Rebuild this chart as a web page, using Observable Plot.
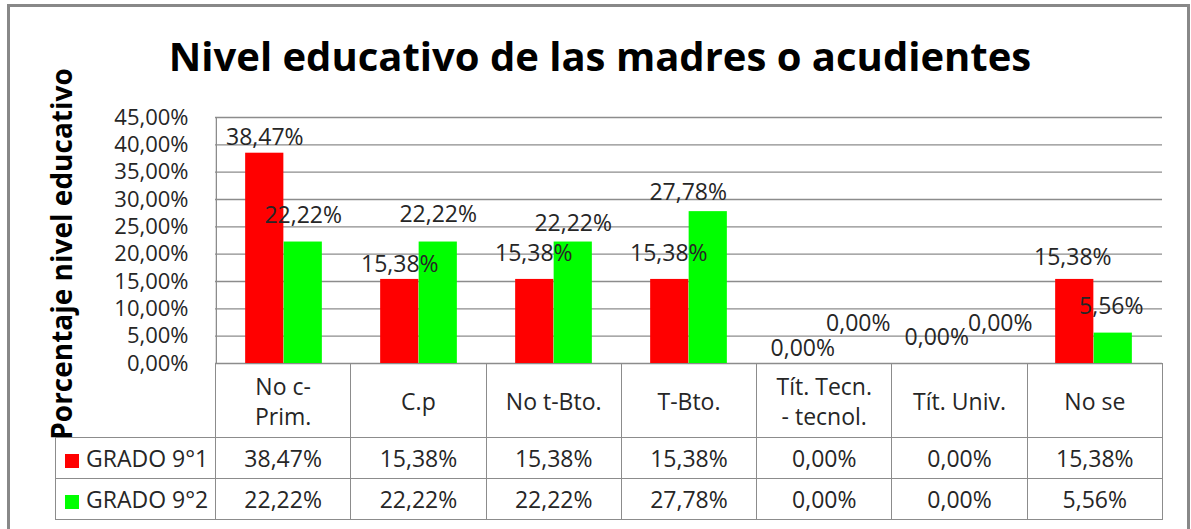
<!DOCTYPE html>
<html>
<head>
<meta charset="utf-8">
<script src="https://cdn.jsdelivr.net/npm/d3@7"></script>
<script src="https://cdn.jsdelivr.net/npm/@observablehq/plot@0.6"></script>
<style>
  body { margin: 0; background: #fff; }
  #wrap { position: relative; width: 1191px; height: 529px; overflow: hidden; font-family: "Open Sans", sans-serif; color: #262626; background: #fff; }
  #border { position: absolute; left: 7px; top: 4px; width: 1183px; height: 580px; border: 3px solid #888; box-sizing: border-box; }
  #title { position: absolute; left: 0; width: 1200px; top: 36px; text-align: center; font-weight: 700; font-size: 40px; line-height: 40px; color: #000; white-space: nowrap; }
  #ytitle { position: absolute; left: 61px; top: 254px; transform: translate(-50%, -50%) rotate(-90deg); font-weight: 700; font-size: 28px; line-height: 28px; color: #000; white-space: nowrap; }
  #chart { position: absolute; left: 0; top: 0; }
  #tbl { position: absolute; border-collapse: collapse; table-layout: fixed; font-size: 23px; }
  #tbl td { border: 1px solid #8c8c8c; text-align: center; padding: 0; vertical-align: middle; line-height: 30px; white-space: nowrap; }
  #tbl td.corner { border-top: none; border-left: none; }
  #tbl td.lg { text-align: left; padding-left: 9px; }
  #tbl .sw { display: inline-block; width: 14px; height: 14px; margin-right: 7px; vertical-align: -1px; }
</style>
</head>
<body>
<div id="wrap">
  <div id="border"></div>
  <div id="chart"></div>
  <div id="title">Nivel educativo de las madres o acudientes</div>
  <div id="ytitle">Porcentaje nivel educativo</div>
</div>
<script>
// ---- data ----
const categories = ["No c-\nPrim.", "C.p", "No t-Bto.", "T-Bto.", "Tít. Tecn.\n- tecnol.", "Tít. Univ.", "No se"];
const seriesNames = ["GRADO 9°1", "GRADO 9°2"];
const grado91 = [38.47, 15.38, 15.38, 15.38, 0, 0, 15.38];
const grado92 = [22.22, 22.22, 22.22, 27.78, 0, 0, 5.56];
const yTicks = [0, 5, 10, 15, 20, 25, 30, 35, 40, 45];
const seriesColors = ["#ff0000", "#00ff00"];

// label placement nudges (pixels), mimicking the original's data-label offsets
const labelNudge91 = [[0, -16], [0, -15], [-1, -26], [-1, -26], [-2, -15], [-3, -26], [-2, -22]];
const labelNudge92 = [[0, -26], [0, -27], [0, -18], [-20, -19], [15, -40], [22, -40], [-2, -26]];

// ---- layout ----
const W = 1191, H = 529;
const mTop = 117, mBottom = 166, mLeft = 215, mRight = 29;
const step = (W - mLeft - mRight) / categories.length;
const barW = step * 0.2845;

const fmt = v => v.toFixed(2).replace(".", ",") + "%";
const rows = categories.map((c, i) => ({cat: c, g1: grado91[i], g2: grado92[i]}));

const labelMarks = [];
rows.forEach((r, i) => {
  labelMarks.push(Plot.text([r], {x: "cat", y: "g1", text: d => fmt(d.g1), dx: -barW / 2 + labelNudge91[i][0], dy: labelNudge91[i][1], fontSize: 23, fill: "#262626"}));
  labelMarks.push(Plot.text([r], {x: "cat", y: "g2", text: d => fmt(d.g2), dx: barW / 2 + labelNudge92[i][0], dy: labelNudge92[i][1], fontSize: 23, fill: "#262626"}));
});

const chart = Plot.plot({
  width: W, height: H,
  marginTop: mTop, marginBottom: mBottom, marginLeft: mLeft, marginRight: mRight,
  style: {fontFamily: "Open Sans", fontSize: "22px", color: "#262626", background: "transparent", overflow: "visible"},
  x: {domain: categories, padding: 0, axis: null},
  y: {domain: [0, 45], ticks: yTicks, tickFormat: fmt, tickSize: 0, tickPadding: 27, label: null},
  marks: [
    Plot.ruleY(yTicks, {stroke: "#8c8c8c", strokeWidth: 1.3}),
    Plot.ruleX([categories[0]], {dx: -step / 2, y1: 0, y2: 45, stroke: "#8c8c8c", strokeWidth: 1.3}),
    Plot.barY(rows, {x: "cat", y: "g1", fill: seriesColors[0], insetLeft: step / 2 - barW, insetRight: step / 2}),
    Plot.barY(rows, {x: "cat", y: "g2", fill: seriesColors[1], insetLeft: step / 2, insetRight: step / 2 - barW}),
    ...labelMarks
  ]
});
document.getElementById("chart").appendChild(chart);

// ---- data table below the plot (aligned with the Plot x scale) ----
const xs = chart.scale("x");
const x0 = Math.min(...xs.range);
const colW = (Math.max(...xs.range) - x0) / categories.length;
const legendLeft = 55;
const tbl = document.createElement("table");
tbl.id = "tbl";
tbl.style.left = legendLeft + "px";
tbl.style.top = (H - mBottom) + "px";
tbl.style.width = (x0 - legendLeft + colW * categories.length) + "px";
let html = `<colgroup><col style="width:${x0 - legendLeft}px">` + categories.map(() => `<col style="width:${colW}px">`).join("") + `</colgroup>`;
html += `<tr style="height:74px"><td class="corner"></td>` + categories.map(c => `<td>${c.replace("\n", "<br>")}</td>`).join("") + `</tr>`;
[grado91, grado92].forEach((vals, s) => {
  html += `<tr style="height:41px"><td class="lg"><span class="sw" style="background:${seriesColors[s]}"></span>${seriesNames[s]}</td>` + vals.map(v => `<td>${fmt(v)}</td>`).join("") + `</tr>`;
});
tbl.innerHTML = html;
document.getElementById("wrap").appendChild(tbl);
</script>
</body>
</html>
